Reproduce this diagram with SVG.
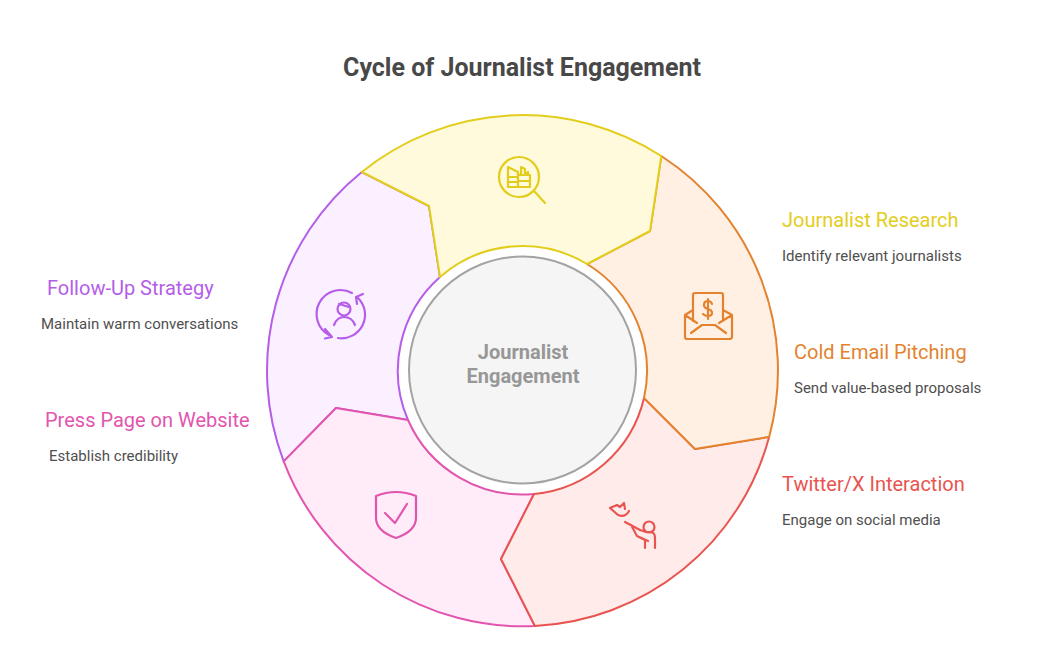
<svg xmlns="http://www.w3.org/2000/svg" width="1044" height="650" viewBox="0 0 1044 650">
<style>
text{font-family:Roboto,"Liberation Sans",sans-serif}
.h{font-size:20px}
.d{font-size:15px;fill:#4f4f4f}
.s{stroke-width:2;stroke-linejoin:round;stroke-linecap:round}
.i{fill:none;stroke-width:2.200;stroke-linecap:round;stroke-linejoin:round}
</style>
<rect width="1044" height="650" fill="#fff"/>
<text x="522" y="75.500" text-anchor="middle" font-size="25" font-weight="700" fill="#484848">Cycle of Journalist Engagement</text>
<g id="connectors"></g>
<g id="node-followup">
<path class="s" d="M283.700 461.400A255.500 255.500 0 0 1 361.800 172L429 206L440 277A125 125 0 0 0 408 420L336 408Z" fill="#fbf0ff" stroke="#b55de9"/>
<g class="i" stroke="#b55de9"><path d="M352 293A23.500 23.500 0 0 0 329 335M338 338A23.500 23.500 0 0 0 358 298M325 329L332 337L325 338.500M363 294L356 297L357 304"/><circle cx="344" cy="309" r="6.500"/><path d="M339 304L349 307M334 325Q337 317 344 317Q352 317 355 325"/></g>
<text class="h" x="47" y="295" fill="#b55de9">Follow-Up Strategy</text>
<text class="d" x="41" y="329">Maintain warm conversations</text>
</g>
<g id="node-press">
<path class="s" d="M534.900 626A255.500 255.500 0 0 1 283.700 461.400L336 408L408 420A125 125 0 0 0 534 494L501 559Z" fill="#ffecf8" stroke="#e255ae"/>
<g class="i" stroke="#e255ae"><path d="M376 496Q396 488 416 496V518Q416 531 396 538Q376 531 376 518Z"/><path d="M385 513L395 523L407 504"/></g>
<text class="h" x="45" y="427" fill="#e255ae">Press Page on Website</text>
<text class="d" x="49" y="461">Establish credibility</text>
</g>
<g id="node-twitter">
<path class="s" d="M769.200 436.800A255.500 255.500 0 0 1 534.900 626L501 559L534 494A125 125 0 0 0 644 398L695 449Z" fill="#ffecea" stroke="#e95450"/>
<g class="i" stroke="#e95450"><path d="M610 508L617 505L620 507L624 503L625 509M610 508L618 515Q625 518 629 511M625 522L640 530M631 525L637 536L645 540V548M655 548V538Q655 532 650 532H646L640 530M637 536L648 541"/><circle cx="649" cy="527" r="5.500"/></g>
<text class="h" x="782" y="491" fill="#e95450">Twitter/X Interaction</text>
<text class="d" x="782" y="525">Engage on social media</text>
</g>
<g id="node-email">
<path class="s" d="M661.300 156A255.500 255.500 0 0 1 769.200 436.800L695 449L644 398A125 125 0 0 0 587 264L650 231Z" fill="#fff0e3" stroke="#e3832f"/>
<g class="i" stroke="#e3832f"><path d="M693 321V295Q693 293 695 293H721Q723 293 723 295V321M693 310L685 315V337Q685 339 687 339H729Q732 339 732 337V315L723 310M685 315L697 323M732 315L719 323M691 333L702 325H715L726 333M712 304Q711 301 708 301Q704 301 704 305Q704 308 708 309Q712 310 712 313Q712 316 708 316Q705 316 703 314M708 299V319"/></g>
<text class="h" x="794" y="359" fill="#e3832f">Cold Email Pitching</text>
<text class="d" x="794" y="393">Send value-based proposals</text>
</g>
<g id="node-research">
<path class="s" d="M361.800 172A255.500 255.500 0 0 1 661.300 156L650 231L587 264A125 125 0 0 0 440 277L429 206Z" fill="#fefadb" stroke="#e3cd1c"/>
<g class="i" stroke="#e3cd1c"><circle cx="519" cy="177" r="20"/><path d="M534 191L545 203M508 187V167L518 172V187M508 187H530V175H518M508 177H518M508 182H518M521 175V167L525 169V175L528 172V175M518 181H530"/></g>
<text class="h" x="782" y="227" fill="#e3cd1c">Journalist Research</text>
<text class="d" x="782" y="261">Identify relevant journalists</text>
</g>
<g id="node-center">
<circle cx="522.5" cy="370" r="113.500" fill="#f5f5f5" stroke="#a3a3a3" stroke-width="2"/>
<text x="523" y="359" text-anchor="middle" font-size="20" font-weight="700" fill="#979797">Journalist</text>
<text x="523" y="383" text-anchor="middle" font-size="20" font-weight="700" fill="#979797">Engagement</text>
</g>
</svg>
